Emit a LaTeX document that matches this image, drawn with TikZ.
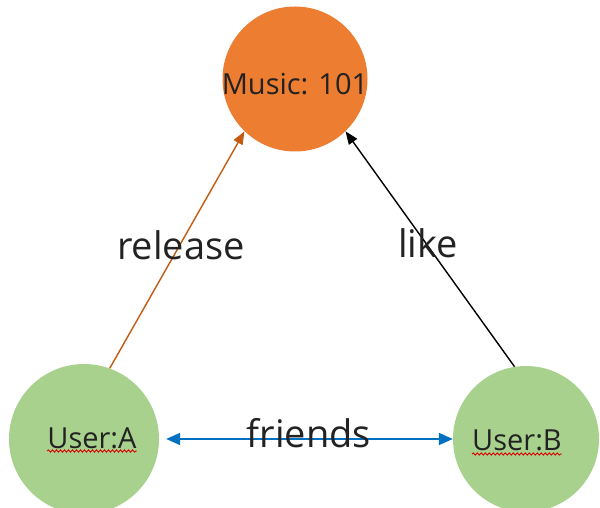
\documentclass[tikz,border=0pt]{standalone}
\usepackage{fontspec}
\setmainfont{Open Sans}
\usetikzlibrary{arrows.meta,decorations.pathmorphing}
\definecolor{musicfill}{HTML}{ED7D31}
\definecolor{userfill}{HTML}{A9D18E}
\definecolor{releasecol}{HTML}{C55A11}
\definecolor{friendcol}{HTML}{0070C0}
\definecolor{txt}{HTML}{222222}
\tikzset{
  vertex/.style={circle,inner sep=0pt,draw=none},
  nodetext/.style={inner sep=0pt,anchor=base,text=txt,font=\fontsize{29}{31}\selectfont},
  edgelabel/.style={inner sep=0pt,anchor=base,text=txt,font=\fontsize{38}{42}\selectfont},
  relarrow/.style={line width=1.4pt,-{Triangle[length=13pt,width=10pt]}},
  friendarrow/.style={line width=1.8pt,friendcol,{Triangle[length=14pt,width=12pt]}-{Triangle[length=14pt,width=12pt]}},
  spellmark/.style={draw=red!85!black,line width=0.9pt,decorate,decoration={snake,amplitude=1.1pt,segment length=4pt}}
}
\begin{document}
\begin{tikzpicture}[x=1pt,y=-1pt]
\useasboundingbox[fill=white] (0,0) rectangle (600,508);
\begin{scope}
\clip (0,0) rectangle (600,508);
% the three entities
\node[vertex,fill=musicfill,minimum size=145pt] (music) at (295,79) {};
\node[vertex,fill=userfill,minimum size=150pt] (ua) at (84,439) {};
\node[vertex,fill=userfill,minimum size=146pt] (ub) at (526,439) {};
\end{scope}

% relations
\draw[relarrow,releasecol] (ua.70) -- (music.226);
\draw[relarrow,black] (ub.99) -- (music.314);
\draw[friendarrow] ([xshift=7pt]ua.east) -- (ub.west);

% entity labels
\node[nodetext] (musictext) at (295,95) {Music: 101};
\node[nodetext] (uatext) at (92,448) {User:A};
\node[nodetext] (ubtext) at (517,450) {User:B};
\draw[spellmark] ([yshift=-3pt]uatext.base west) -- ([yshift=-3pt]uatext.base east);
\draw[spellmark] ([yshift=-4pt]ubtext.base west) -- ([yshift=-4pt]ubtext.base east);

% relation labels
\node[edgelabel] (lrelease) at (181,259) {release};
\node[edgelabel] (llike) at (428,257) {like};
\node[edgelabel] (lfriends) at (309,447) {friends};
\end{tikzpicture}
\end{document}
